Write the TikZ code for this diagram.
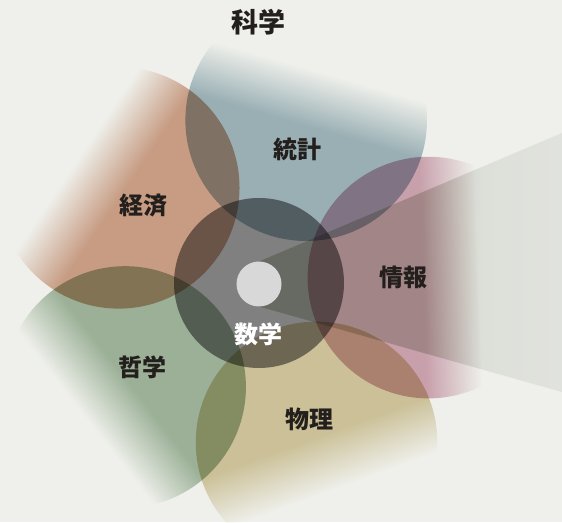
\documentclass[tikz,border=0pt]{standalone}
\usepackage{fontspec}
\newfontfamily\jp{Noto Sans CJK JP}
\usetikzlibrary{fadings}
\definecolor{bg}{RGB}{239,240,235}
\definecolor{cstat}{RGB}{164,186,196}
\definecolor{cecon}{RGB}{213,166,143}
\definecolor{cphil}{RGB}{166,188,164}
\definecolor{cphys}{RGB}{217,205,164}
\definecolor{cinfo}{RGB}{214,171,187}
\definecolor{cdisk}{RGB}{137,136,139}
\definecolor{wa}{RGB}{207,212,199}
\definecolor{wb}{RGB}{236,238,236}
\definecolor{wc}{RGB}{240,241,240}
\definecolor{ink}{RGB}{35,31,28}
\definecolor{knob}{RGB}{216,216,216}

\pgfdeclarehorizontalshading{wedgeshade}{100bp}{color(0bp)=(wa); color(25bp)=(wa); color(52bp)=(wa); color(62bp)=(wb); color(75bp)=(wc); color(100bp)=(wc)}

\begin{tikzfadingfrompicture}[name=petalfade]
  \fill[transparent!0] (-60bp,-60bp) rectangle (-1.2bp,60bp);
  \shade[left color=transparent!0, right color=transparent!100] (-1.35bp,-60bp) rectangle (10.2bp,60bp);
  \fill[transparent!100] (10.1bp,-60bp) rectangle (60bp,60bp);
\end{tikzfadingfrompicture}

\tikzset{
  lab/.style={font=\jp\bfseries\fontsize{24}{24}\selectfont, text=ink, inner sep=0pt},
  titlelab/.style={font=\jp\bfseries\fontsize{27}{27}\selectfont, text=ink, inner sep=0pt},
  mul/.style={blend mode=multiply}
}

\begin{document}
\begin{tikzpicture}[x=1pt,y=1pt]
\useasboundingbox (0,0) rectangle (562,522);
\fill[bg] (0,0) rectangle (562,522);
\coordinate (O) at (259,239);
% petals
\foreach \ang/\col in {2/cinfo,74/cstat,146/cecon,218/cphil,290/cphys}{
  \fill[\col, mul, path fading=petalfade, fading angle=\ang, shift={(O)}] (\ang:170) circle (121);
}
% central disk
\fill[cdisk, mul] (O) circle (85);
% spotlight wedge
\coordinate (w1) at (259,260.5);
\coordinate (w2) at (562,389);
\coordinate (w3) at (562,130);
\coordinate (w4) at (259,215.5);
\shade[shading=wedgeshade, mul] (w1) -- (w2) -- (w3) -- (w4) -- cycle;
% knob
\fill[knob] (259,238) circle (22.5);
% labels
\node[titlelab] (title) at (258,500) {科学};
\node[lab] (stat) at (297.5,373) {統計};
\node[lab] (econ) at (143,316) {経済};
\node[lab] (info) at (403,244.5) {情報};
\node[lab] (phil) at (142.5,155) {哲学};
\node[lab] (phys) at (309,103) {物理};
\node[lab, text=white] (math) at (258.5,188) {数学};
\end{tikzpicture}
\end{document}
